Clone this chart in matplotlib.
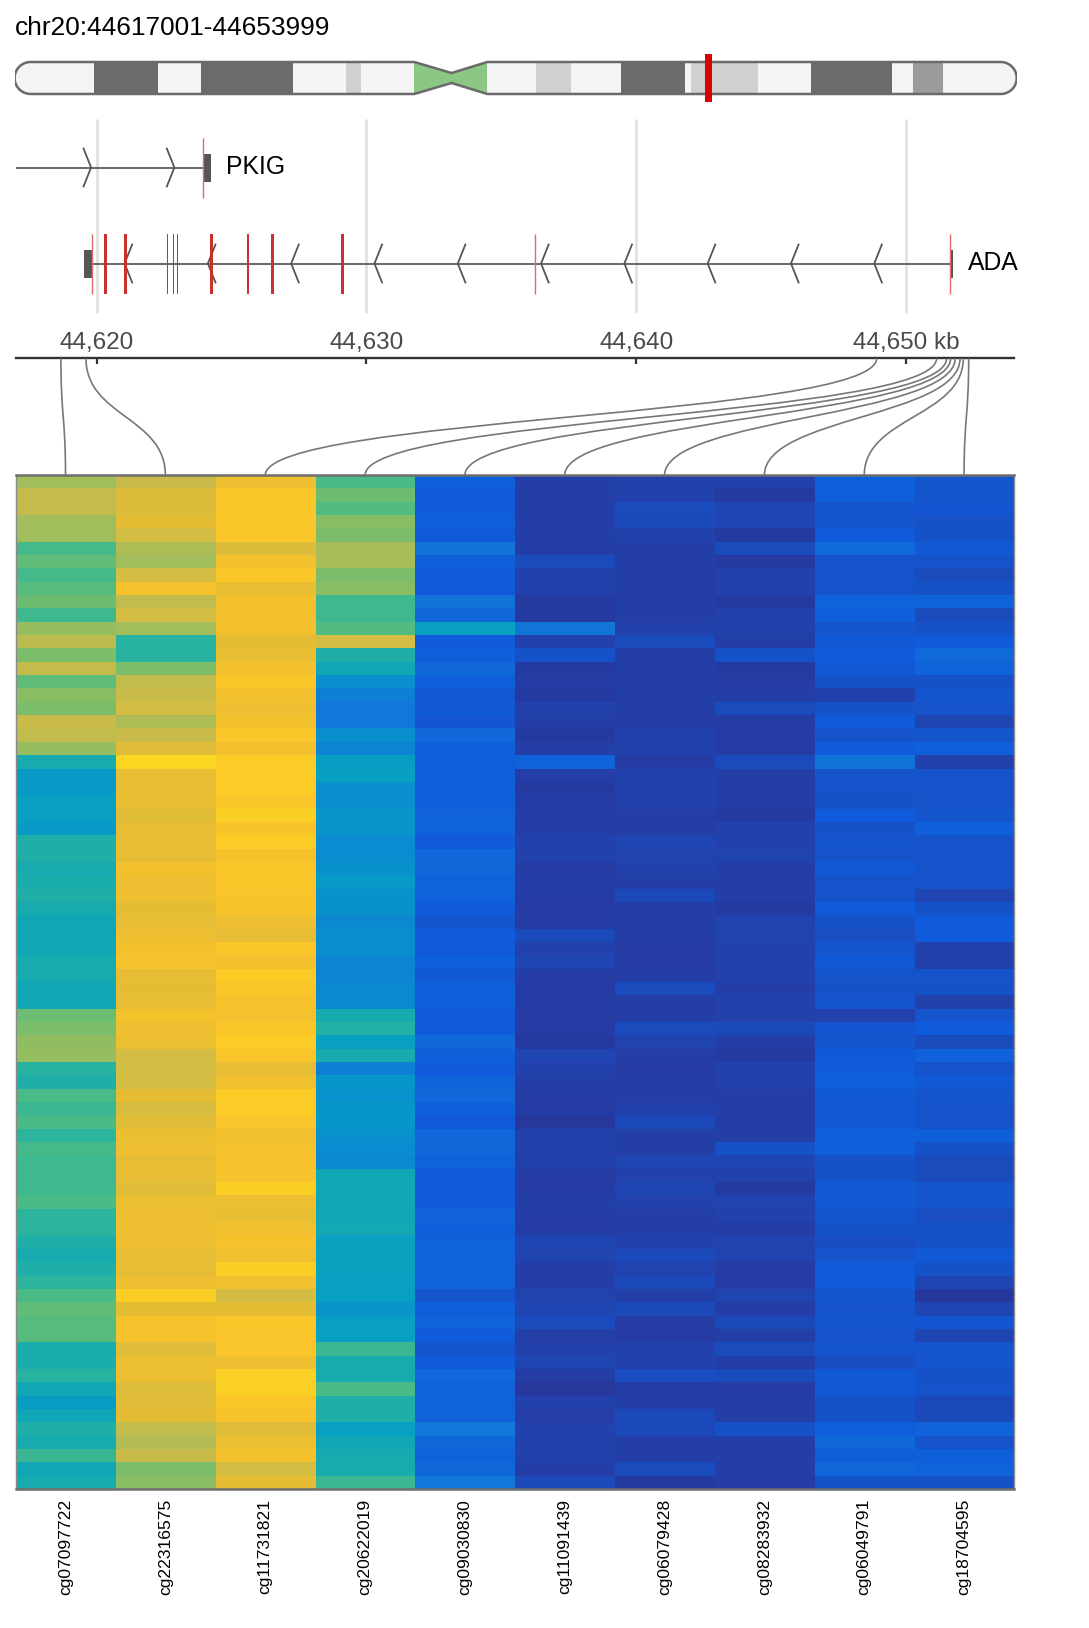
import numpy as np
import matplotlib
matplotlib.use("Agg")
import matplotlib.pyplot as plt
from matplotlib.colors import LinearSegmentedColormap
from matplotlib.patches import Rectangle, Polygon, PathPatch
from matplotlib.path import Path

plt.rcParams['font.family'] = ['Liberation Sans', 'DejaVu Sans']

W, H = 1089, 1628

# ---------------- data ----------------
title = "chr20:44617001-44653999"
region_start_kb = 44617.001
region_end_kb = 44653.999
chrom_length_mb = 64.444

band_starts = [0.0, 5.1, 9.2, 12.0, 17.9, 21.3, 22.3, 25.7, 28.1, 30.4, 33.5, 35.8,
               39.0, 43.1, 43.5, 47.8, 51.2, 56.4, 57.8, 59.7]
band_ends = [5.1, 9.2, 12.0, 17.9, 21.3, 22.3, 25.7, 28.1, 30.4, 33.5, 35.8, 39.0,
             43.1, 43.5, 47.8, 51.2, 56.4, 57.8, 59.7, 64.444]
band_stains = ['gneg', 'gpos75', 'gneg', 'gpos75', 'gneg', 'gpos25', 'gneg', 'acen',
               'acen', 'gneg', 'gpos25', 'gneg', 'gpos75', 'gneg', 'gpos25', 'gneg',
               'gpos75', 'gneg', 'gpos50', 'gneg']

gene_names = ["PKIG", "ADA"]
gene_strands = ["+", "-"]
gene_starts = [44539.6, 44619.52]
gene_ends = [44624.24, 44651.74]

utr_gene = ["PKIG", "ADA", "ADA"]
utr_starts = [44623.94, 44619.52, 44651.61]
utr_ends = [44624.24, 44619.84, 44651.74]

exon_gene = ["ADA"] * 9
exon_centers = [44620.33, 44621.06, 44622.62, 44622.85, 44623.00, 44624.25,
                44625.61, 44626.51, 44629.10]
exon_widths = [0.105, 0.105, 0.05, 0.06, 0.05, 0.105, 0.09, 0.105, 0.105]

edge_gene = ["PKIG", "ADA", "ADA", "ADA"]
edge_pos = [44623.94, 44619.84, 44636.24, 44651.61]

tick_kb = [44620, 44630, 44640, 44650]
tick_labels = ["44,620", "44,630", "44,640", "44,650 kb"]

probe_names = ["cg07097722", "cg22316575", "cg11731821", "cg20622019", "cg09030830",
               "cg11091439", "cg06079428", "cg08283932", "cg06049791", "cg18704595"]
probe_pos_kb = [44618.68, 44619.61, 44648.91, 44651.13, 44651.50, 44651.65,
                44651.82, 44652.00, 44652.12, 44652.32]

cg07097722 = [0.66, 0.73, 0.73, 0.66, 0.66, 0.52, 0.56, 0.52, 0.55, 0.58,
              0.51, 0.64, 0.71, 0.60, 0.73, 0.56, 0.62, 0.60, 0.74, 0.72,
              0.64, 0.43, 0.33, 0.33, 0.35, 0.35, 0.33, 0.45, 0.45, 0.43,
              0.44, 0.45, 0.43, 0.40, 0.40, 0.41, 0.43, 0.43, 0.40, 0.40,
              0.58, 0.60, 0.63, 0.64, 0.47, 0.45, 0.53, 0.50, 0.53, 0.48,
              0.52, 0.51, 0.51, 0.51, 0.53, 0.48, 0.48, 0.45, 0.43, 0.45,
              0.48, 0.53, 0.56, 0.55, 0.55, 0.44, 0.44, 0.47, 0.40, 0.34,
              0.40, 0.45, 0.43, 0.50, 0.40, 0.43]
cg22316575 = [0.74, 0.79, 0.79, 0.81, 0.77, 0.68, 0.66, 0.77, 0.85, 0.72,
              0.77, 0.66, 0.47, 0.47, 0.60, 0.72, 0.74, 0.77, 0.68, 0.74,
              0.80, 0.90, 0.82, 0.82, 0.82, 0.80, 0.815, 0.815, 0.815, 0.84,
              0.83, 0.83, 0.81, 0.815, 0.83, 0.84, 0.855, 0.815, 0.81, 0.815,
              0.845, 0.83, 0.825, 0.77, 0.77, 0.77, 0.81, 0.78, 0.80, 0.825,
              0.83, 0.815, 0.815, 0.80, 0.825, 0.83, 0.83, 0.83, 0.815, 0.815,
              0.83, 0.885, 0.81, 0.85, 0.85, 0.80, 0.825, 0.825, 0.795, 0.80,
              0.81, 0.72, 0.69, 0.74, 0.60, 0.62]
cg11731821 = [0.83, 0.87, 0.87, 0.87, 0.87, 0.79, 0.84, 0.87, 0.82, 0.84,
              0.84, 0.84, 0.81, 0.82, 0.84, 0.87, 0.84, 0.83, 0.84, 0.87,
              0.84, 0.88, 0.88, 0.88, 0.87, 0.89, 0.86, 0.88, 0.85, 0.87,
              0.87, 0.86, 0.86, 0.83, 0.815, 0.87, 0.84, 0.88, 0.87, 0.85,
              0.845, 0.87, 0.88, 0.86, 0.815, 0.835, 0.88, 0.88, 0.865, 0.835,
              0.845, 0.855, 0.855, 0.885, 0.825, 0.82, 0.835, 0.85, 0.835, 0.885,
              0.835, 0.77, 0.81, 0.87, 0.86, 0.865, 0.83, 0.89, 0.89, 0.87,
              0.855, 0.80, 0.825, 0.845, 0.77, 0.81]
cg20622019 = [0.53, 0.58, 0.54, 0.62, 0.60, 0.67, 0.67, 0.60, 0.62, 0.51,
              0.51, 0.54, 0.77, 0.45, 0.40, 0.29, 0.24, 0.22, 0.22, 0.29,
              0.26, 0.34, 0.35, 0.29, 0.29, 0.31, 0.31, 0.28, 0.28, 0.30,
              0.33, 0.30, 0.30, 0.27, 0.29, 0.29, 0.26, 0.26, 0.27, 0.27,
              0.43, 0.46, 0.35, 0.43, 0.24, 0.32, 0.30, 0.32, 0.32, 0.30,
              0.28, 0.27, 0.40, 0.40, 0.40, 0.40, 0.42, 0.36, 0.36, 0.36,
              0.35, 0.35, 0.31, 0.35, 0.35, 0.50, 0.43, 0.43, 0.53, 0.45,
              0.45, 0.35, 0.40, 0.43, 0.43, 0.50]
cg09030830 = [0.13, 0.12, 0.12, 0.13, 0.115, 0.20, 0.13, 0.115, 0.115, 0.20,
              0.15, 0.35, 0.12, 0.13, 0.15, 0.13, 0.11, 0.11, 0.105, 0.15,
              0.13, 0.13, 0.13, 0.13, 0.13, 0.14, 0.14, 0.115, 0.15, 0.15,
              0.14, 0.14, 0.12, 0.10, 0.12, 0.115, 0.13, 0.11, 0.13, 0.13,
              0.12, 0.12, 0.15, 0.13, 0.12, 0.14, 0.15, 0.13, 0.115, 0.15,
              0.15, 0.14, 0.12, 0.12, 0.12, 0.14, 0.13, 0.14, 0.14, 0.14,
              0.14, 0.10, 0.13, 0.14, 0.12, 0.10, 0.12, 0.15, 0.14, 0.14,
              0.14, 0.22, 0.15, 0.14, 0.15, 0.22]
cg11091439 = [0.05, 0.05, 0.05, 0.05, 0.05, 0.05, 0.08, 0.06, 0.06, 0.035,
              0.035, 0.21, 0.06, 0.09, 0.035, 0.04, 0.035, 0.06, 0.05, 0.035,
              0.05, 0.14, 0.05, 0.035, 0.045, 0.05, 0.05, 0.06, 0.06, 0.04,
              0.05, 0.04, 0.04, 0.04, 0.075, 0.06, 0.07, 0.04, 0.04, 0.04,
              0.04, 0.04, 0.03, 0.07, 0.06, 0.05, 0.04, 0.04, 0.025, 0.055,
              0.055, 0.055, 0.04, 0.04, 0.05, 0.04, 0.04, 0.07, 0.065, 0.05,
              0.05, 0.065, 0.07, 0.08, 0.05, 0.06, 0.07, 0.04, 0.02, 0.06,
              0.05, 0.06, 0.06, 0.06, 0.05, 0.075]
cg06079428 = [0.06, 0.06, 0.08, 0.075, 0.06, 0.05, 0.05, 0.05, 0.05, 0.05,
              0.05, 0.06, 0.08, 0.05, 0.05, 0.05, 0.05, 0.05, 0.045, 0.06,
              0.06, 0.04, 0.06, 0.06, 0.06, 0.05, 0.05, 0.07, 0.065, 0.06,
              0.05, 0.075, 0.05, 0.05, 0.05, 0.04, 0.04, 0.05, 0.08, 0.05,
              0.05, 0.08, 0.065, 0.05, 0.04, 0.05, 0.05, 0.055, 0.075, 0.05,
              0.05, 0.07, 0.06, 0.07, 0.06, 0.05, 0.05, 0.06, 0.075, 0.065,
              0.075, 0.05, 0.075, 0.04, 0.04, 0.06, 0.06, 0.085, 0.05, 0.05,
              0.075, 0.075, 0.05, 0.05, 0.08, 0.035]
cg08283932 = [0.06, 0.035, 0.07, 0.07, 0.035, 0.08, 0.035, 0.06, 0.06, 0.035,
              0.06, 0.06, 0.05, 0.09, 0.035, 0.04, 0.05, 0.08, 0.04, 0.04,
              0.04, 0.08, 0.05, 0.05, 0.05, 0.035, 0.06, 0.06, 0.065, 0.05,
              0.05, 0.05, 0.035, 0.065, 0.065, 0.06, 0.06, 0.06, 0.05, 0.06,
              0.06, 0.075, 0.05, 0.035, 0.06, 0.06, 0.05, 0.05, 0.05, 0.05,
              0.09, 0.07, 0.06, 0.035, 0.065, 0.06, 0.045, 0.065, 0.065, 0.04,
              0.04, 0.07, 0.05, 0.075, 0.05, 0.08, 0.05, 0.08, 0.04, 0.05,
              0.05, 0.09, 0.05, 0.05, 0.05, 0.04]
cg06049791 = [0.13, 0.13, 0.10, 0.10, 0.115, 0.16, 0.095, 0.095, 0.095, 0.14,
              0.13, 0.10, 0.11, 0.12, 0.11, 0.09, 0.06, 0.09, 0.12, 0.095,
              0.12, 0.20, 0.095, 0.095, 0.09, 0.12, 0.09, 0.10, 0.095, 0.11,
              0.095, 0.095, 0.12, 0.09, 0.085, 0.10, 0.11, 0.095, 0.09, 0.10,
              0.06, 0.105, 0.10, 0.115, 0.12, 0.13, 0.11, 0.11, 0.11, 0.13,
              0.13, 0.09, 0.09, 0.11, 0.11, 0.10, 0.09, 0.085, 0.10, 0.115,
              0.12, 0.10, 0.095, 0.10, 0.095, 0.10, 0.085, 0.11, 0.11, 0.09,
              0.09, 0.13, 0.15, 0.13, 0.15, 0.09]
cg18704595 = [0.10, 0.10, 0.105, 0.09, 0.09, 0.11, 0.095, 0.08, 0.09, 0.14,
              0.08, 0.09, 0.12, 0.16, 0.14, 0.09, 0.10, 0.095, 0.07, 0.10,
              0.13, 0.06, 0.095, 0.095, 0.095, 0.10, 0.125, 0.095, 0.095, 0.095,
              0.095, 0.07, 0.09, 0.12, 0.12, 0.06, 0.06, 0.095, 0.09, 0.06,
              0.10, 0.12, 0.08, 0.14, 0.095, 0.11, 0.10, 0.095, 0.095, 0.13,
              0.09, 0.08, 0.08, 0.10, 0.10, 0.085, 0.09, 0.09, 0.11, 0.09,
              0.07, 0.025, 0.07, 0.105, 0.07, 0.10, 0.10, 0.09, 0.095, 0.075,
              0.075, 0.14, 0.095, 0.13, 0.14, 0.09]

# ---------------- styles ----------------
cmap_anchors = [
    (0.00, '#2c3296'), (0.03, '#263aa0'), (0.06, '#2242ae'), (0.09, '#1652c8'),
    (0.12, '#0f5cdd'), (0.15, '#0f68d9'), (0.22, '#1278d8'), (0.29, '#0a8fcf'),
    (0.35, '#07a0c2'), (0.43, '#17aab0'), (0.48, '#2db59d'), (0.53, '#4bbb86'),
    (0.58, '#6cbd72'), (0.62, '#8abe64'), (0.66, '#a3bd5b'), (0.72, '#c2bb4e'),
    (0.77, '#d2bd43'), (0.81, '#e4bd36'), (0.84, '#f3c12e'), (0.87, '#fbc62a'),
    (0.90, '#fbd522'), (1.00, '#f9fb0e')]
heat_cmap = LinearSegmentedColormap.from_list("methyl", cmap_anchors)
stain_colors = {'gneg': '#f4f4f4', 'gpos25': '#d0d0d0', 'gpos50': '#9c9c9c',
                'gpos75': '#6b6b6b', 'gpos100': '#3c3c3c', 'acen': '#8cc785'}


def rect(x0, y0, x1, y1):
    return [x0 / W, 1 - y1 / H, (x1 - x0) / W, (y1 - y0) / H]


fig = plt.figure(figsize=(W / 100, H / 100), dpi=100)
fig.patch.set_facecolor('white')

fig.text(14.6 / W, 1 - 28.0 / H, title, fontsize=18.9, va='center', ha='left', color='black')

# ---------------- ideogram ----------------
ideo = fig.add_axes(rect(14.6, 50, 1016.7, 106))
ideo.set_xlim(0, chrom_length_mb)
ideo.set_ylim(106, 50)
ideo.axis('off')
px_per_mb = (1016.7 - 14.6) / chrom_length_mb
top_y, bot_y = 62.0, 94.0
mid_y = (top_y + bot_y) / 2
r_y = (bot_y - top_y) / 2
r_x = r_y / px_per_mb
pinch = 5.0
acen_idx = [i for i, s in enumerate(band_stains) if s == 'acen']
cen_start = band_starts[acen_idx[0]]
cen_mid = band_ends[acen_idx[0]]
cen_end = band_ends[acen_idx[-1]]
th = np.linspace(np.pi / 2, -np.pi / 2, 30)
right_arc = [(chrom_length_mb - r_x + r_x * np.cos(t), mid_y - r_y * np.sin(t)) for t in th]
left_arc = [(r_x - r_x * np.cos(t), mid_y + r_y * np.sin(t)) for t in th]
outline = ([(r_x, top_y), (cen_start, top_y), (cen_mid, mid_y - pinch), (cen_end, top_y)]
           + right_arc
           + [(cen_end, bot_y), (cen_mid, mid_y + pinch), (cen_start, bot_y)]
           + left_arc)
clip_poly = Polygon(outline, closed=True, transform=ideo.transData, facecolor='none', edgecolor='none')
ideo.add_patch(clip_poly)
for s, e, st in zip(band_starts, band_ends, band_stains):
    rr = Rectangle((s, top_y), e - s, bot_y - top_y, facecolor=stain_colors[st], edgecolor='none')
    ideo.add_patch(rr)
    rr.set_clip_path(clip_poly)
ideo.add_patch(Polygon(outline, closed=True, facecolor='none', edgecolor='#6a6a6a', linewidth=1.8))
region_mid_mb = (region_start_kb + region_end_kb) / 2 / 1000.0
ideo.bar([region_mid_mb], [48], width=7.6 / px_per_mb, bottom=54, color='#dd0000', zorder=5)

# ---------------- gene track ----------------
track = fig.add_axes(rect(15.6, 110, 1014, 330))
track.set_xlim(region_start_kb, region_end_kb)
track.set_ylim(330, 110)
track.axis('off')
track.vlines(tick_kb, 119, 313, color='#e2e2e2', linewidth=2.0, zorder=0)
gene_y = {"PKIG": 167.5, "ADA": 263.5}
kb_per_px = (region_end_kb - region_start_kb) / (1014 - 15.6)
chev_w = 7.6 * kb_per_px
chev_h = 19
chev_step = 83.3 * kb_per_px
chev_offset = {"PKIG": 75.5 * kb_per_px, "ADA": 41.0 * kb_per_px}
for name, strand, s, e in zip(gene_names, gene_strands, gene_starts, gene_ends):
    y = gene_y[name]
    vs = max(s, region_start_kb)
    track.hlines(y, vs, e, color='#686868', linewidth=1.4, zorder=2)
    for tip in np.arange(vs + chev_offset[name], e, chev_step):
        d = -1 if strand == '+' else 1
        track.plot([tip + d * chev_w, tip, tip + d * chev_w], [y - chev_h, y, y + chev_h],
                   color='#555555', linewidth=1.3, zorder=3, solid_joinstyle='miter')
    track.annotate(name, xy=(e, y), xytext=(10.5, 0), textcoords='offset points',
                   fontsize=17.8, va='center', ha='left', color='black')
for g, s, e in zip(utr_gene, utr_starts, utr_ends):
    track.bar([(s + e) / 2], [28], width=e - s, bottom=gene_y[g] - 14,
              color='#555555', zorder=4)
for g, c, w in zip(exon_gene, exon_centers, exon_widths):
    track.bar([c], [60], width=w, bottom=gene_y[g] - 30, color='#c8312c', zorder=5)
for g, p in zip(edge_gene, edge_pos):
    track.vlines(p, gene_y[g] - 30, gene_y[g] + 30, color='#e06a6a', linewidth=1.0, zorder=6)

# ---------------- ruler ----------------
ruler = fig.add_axes(rect(15.6, 355, 1014, 358.3))
ruler.set_xlim(region_start_kb, region_end_kb)
ruler.patch.set_alpha(0)
for sname in ['top', 'left', 'right']:
    ruler.spines[sname].set_visible(False)
ruler.spines['bottom'].set_linewidth(1.7)
ruler.spines['bottom'].set_color('#333333')
ruler.set_yticks([])
ruler.set_xticks(tick_kb)
ruler.set_xticklabels(tick_labels)
ruler.tick_params(axis='x', bottom=True, top=False, labelbottom=False, labeltop=True,
                  direction='out', length=4.5, width=1.6, color='#333333',
                  labelcolor='#4a4a4a', labelsize=17.5, pad=-3.5)

# ---------------- heatmap ----------------
values = np.column_stack([cg07097722, cg22316575, cg11731821, cg20622019, cg09030830,
                          cg11091439, cg06079428, cg08283932, cg06049791, cg18704595])
hm = fig.add_axes(rect(15.6, 475.3, 1014, 1489.3))
hm.imshow(values, cmap=heat_cmap, vmin=0, vmax=1, aspect='auto', interpolation='nearest')
hm.set_xticks(np.arange(len(probe_names)))
hm.set_xticklabels(probe_names, rotation=90, fontsize=12.6)
hm.tick_params(axis='x', length=0, pad=7)
hm.set_yticks([])
for sname in ['top', 'bottom']:
    hm.spines[sname].set_color('#6e6e6e')
    hm.spines[sname].set_linewidth(1.8)
for sname in ['left', 'right']:
    hm.spines[sname].set_color('#8a8a8a')
    hm.spines[sname].set_linewidth(1.0)

# ---------------- connectors ----------------
links = fig.add_axes(rect(15.6, 358.3, 1014, 475.3))
links.set_xlim(region_start_kb, region_end_kb)
links.set_ylim(1, 0)
links.axis('off')
order = np.argsort(probe_pos_kb)
for col, idx in enumerate(order):
    x0 = probe_pos_kb[idx]
    disp = hm.transData.transform((col, 0))
    x1 = links.transData.inverted().transform(disp)[0]
    path = Path([(x0, 0), (x0, 0.5), (x1, 0.5), (x1, 1)],
                [Path.MOVETO, Path.CURVE4, Path.CURVE4, Path.CURVE4])
    links.add_patch(PathPatch(path, facecolor='none', edgecolor='#777777', linewidth=1.2))

fig.savefig("out.png", dpi=100, facecolor='white')
